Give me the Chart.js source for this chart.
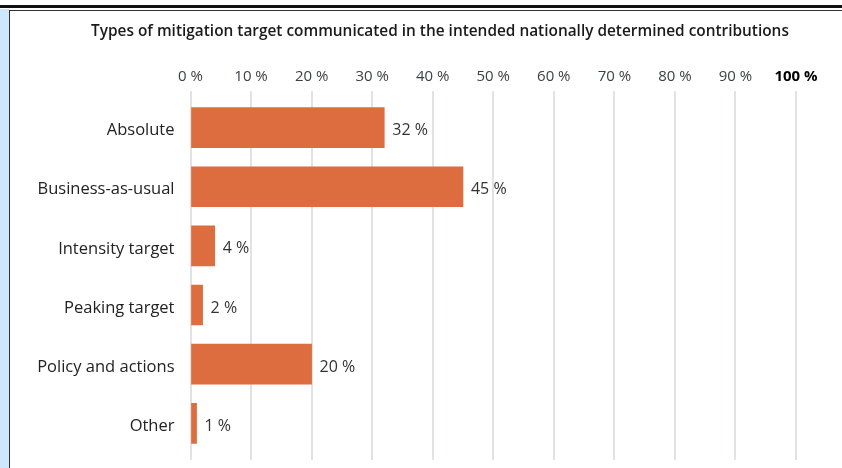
<!DOCTYPE html>
<html>
<head>
<meta charset="utf-8">
<script src="https://cdn.jsdelivr.net/npm/chart.js@4.4.0/dist/chart.umd.min.js"></script>
<style>
  html, body { margin: 0; padding: 0; background: #fff; }
  #wrap { position: relative; width: 842px; height: 468px; overflow: hidden; }
  #topline { position: absolute; left: 0; top: 5px; width: 842px; height: 3px; background: #111; }
  #side { position: absolute; left: 0; top: 9px; width: 9px; height: 459px; background: #cde8fb; }
  #box { position: absolute; left: 9px; top: 10px; width: 833px; height: 458px; border-left: 1.5px solid #333; border-top: 1px solid #333; }
  canvas { position: absolute; left: 0; top: 0; }
</style>
</head>
<body>
<div id="wrap">
  <div id="topline"></div>
  <div id="side"></div>
  <div id="box"></div>
  <canvas id="chart" width="842" height="468"></canvas>
</div>
<script>
// Data
const categories = ["Absolute", "Business-as-usual", "Intensity target", "Peaking target", "Policy and actions", "Other"];
const shares = [32, 45, 4, 2, 20, 1];
const axisMax = 100;
const tickStep = 10;
const chartTitle = "Types of mitigation target communicated in the intended nationally determined contributions";

const FONT = "'Open Sans'";

// value labels at the end of each bar
const valueLabels = {
  id: "valueLabels",
  afterDatasetsDraw(chart) {
    const ctx = chart.ctx;
    const meta = chart.getDatasetMeta(0);
    ctx.save();
    ctx.font = "16px " + FONT;
    ctx.fillStyle = "#333";
    ctx.textAlign = "left";
    ctx.textBaseline = "middle";
    meta.data.forEach((bar, i) => {
      ctx.fillText(shares[i] + " %", bar.x + 8, bar.y + 3);
    });
    ctx.restore();
  }
};

// title sits a bit right of the canvas centre
const shiftTitle = {
  id: "shiftTitle",
  afterLayout(chart) {
    const t = chart.titleBlock;
    if (t) { t.left += 23; t.right += 23; }
  }
};

const barChart = new Chart(document.getElementById("chart"), {
  type: "bar",
  data: {
    datasets: [{
      data: shares.map((v, i) => ({ x: v, y: i })),
      backgroundColor: "#dd6c3f",
      borderWidth: 0,
      barThickness: 40
    }]
  },
  options: {
    indexAxis: "y",
    responsive: false,
    animation: false,
    devicePixelRatio: 1,
    layout: { padding: { left: 38, right: 46, top: 0, bottom: 8 } },
    plugins: {
      legend: { display: false },
      tooltip: { enabled: false },
      title: {
        display: true,
        text: chartTitle,
        color: "#1a1a1a",
        font: { family: FONT, size: 15.4, weight: "600" },
        padding: { top: 22, bottom: 21 }
      }
    },
    scales: {
      x: {
        position: "top",
        min: 0,
        max: axisMax,
        ticks: {
          stepSize: tickStep,
          padding: 6,
          callback: v => v + " %",
          font: c => ({ family: FONT, size: 15, weight: c.tick && c.tick.value === axisMax ? "bold" : "normal" }),
          color: c => (c.tick && c.tick.value === axisMax ? "#000" : "#3c4146")
        },
        grid: { color: "#dfe3e3", lineWidth: 2, drawTicks: false },
        border: { display: false }
      },
      y: {
        type: "linear",
        reverse: true,
        offset: false,
        bounds: "data",
        min: -0.61,
        max: 5.62,
        afterFit: s => {
          s.width = 152.5;
          s.paddingTop = 0;
          s.paddingBottom = 0;
        },
        afterBuildTicks: s => { s.ticks = categories.map((c, i) => ({ value: i })); },
        ticks: {
          autoSkip: false,
          padding: 16,
          labelOffset: 3,
          callback: v => (categories[v] !== undefined ? categories[v] : ""),
          font: { family: FONT, size: 16.5 },
          color: "#222"
        },
        grid: { display: false, drawTicks: false, offset: false },
        border: { display: false }
      }
    }
  },
  plugins: [valueLabels, shiftTitle]
});
</script>
</body>
</html>
